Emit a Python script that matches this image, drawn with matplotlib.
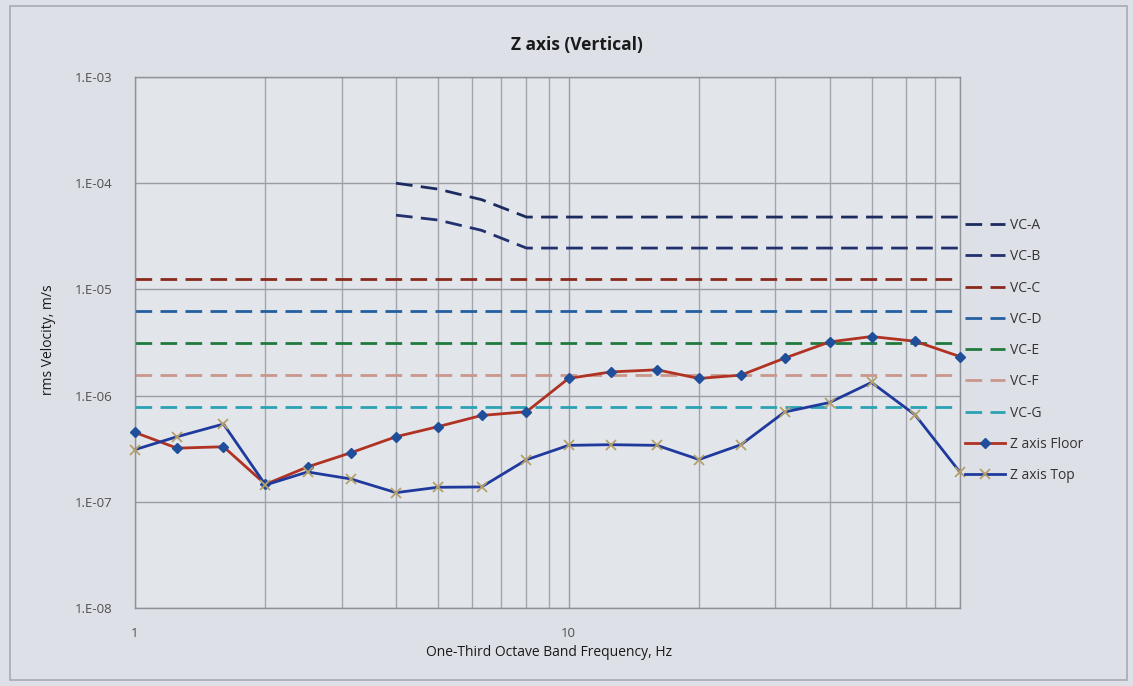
import matplotlib
matplotlib.use("Agg")
import matplotlib.pyplot as plt
import matplotlib.patches as mpatches
from matplotlib.ticker import FixedLocator, FuncFormatter, NullFormatter
import numpy as np

plt.rcParams['font.family'] = ['Open Sans', 'Noto Sans', 'DejaVu Sans']

# ---------------- data ----------------
freq = [1, 1.25, 1.6, 2, 2.5, 3.15, 4, 5, 6.3, 8, 10, 12.5, 16, 20, 25, 31.5, 40, 50, 63, 80]
z_floor = [4.5e-7, 3.2e-7, 3.3e-7, 1.46e-7, 2.13e-7, 2.9e-7, 4.1e-7, 5.1e-7, 6.5e-7, 7.05e-7,
           1.45e-6, 1.67e-6, 1.75e-6, 1.45e-6, 1.56e-6, 2.25e-6, 3.2e-6, 3.6e-6, 3.25e-6, 2.33e-6]
z_top = [3.1e-7, 4.1e-7, 5.4e-7, 1.44e-7, 1.91e-7, 1.64e-7, 1.22e-7, 1.37e-7, 1.38e-7, 2.49e-7,
         3.4e-7, 3.45e-7, 3.4e-7, 2.5e-7, 3.45e-7, 7.0e-7, 8.6e-7, 1.33e-6, 6.6e-7, 1.9e-7]

vc_ab_freq = [4, 5, 6.3, 8, 10, 12.5, 16, 20, 25, 31.5, 40, 50, 63, 80]
vc_a = [1.0e-4, 8.8e-5, 7.0e-5, 4.8e-5, 4.8e-5, 4.8e-5, 4.8e-5, 4.8e-5, 4.8e-5, 4.8e-5, 4.8e-5, 4.8e-5, 4.8e-5, 4.8e-5]
vc_b = [5.0e-5, 4.5e-5, 3.6e-5, 2.45e-5, 2.45e-5, 2.45e-5, 2.45e-5, 2.45e-5, 2.45e-5, 2.45e-5, 2.45e-5, 2.45e-5, 2.45e-5, 2.45e-5]
vc_flat_freq = [1, 80]
vc_c = [1.25e-5, 1.25e-5]
vc_d = [6.25e-6, 6.25e-6]
vc_e = [3.12e-6, 3.12e-6]
vc_f = [1.56e-6, 1.56e-6]
vc_g = [7.8e-7, 7.8e-7]

title = "Z axis (Vertical)"
xlabel = "One-Third Octave Band Frequency, Hz"
ylabel = "rms Velocity, m/s"
yticks = [1e-8, 1e-7, 1e-6, 1e-5, 1e-4, 1e-3]
ytick_labels = ["1.E-08", "1.E-07", "1.E-06", "1.E-05", "1.E-04", "1.E-03"]
xticks = [1, 10]
xtick_labels = ["1", "10"]

# ---------------- figure ----------------
W, H = 1133, 686
fig = plt.figure(figsize=(W / 100, H / 100), dpi=100)
fig.patch.set_facecolor('#dde0e6')

# chart-area border
fig.patches.append(mpatches.Rectangle((10 / W, 6 / H), (1127 - 10) / W, (680 - 6) / H,
                                      transform=fig.transFigure, fill=False,
                                      edgecolor='#a8abb0', linewidth=1.2))

left, right, top, bottom = 135, 960, 77, 608
ax = fig.add_axes([left / W, 1 - bottom / H, (right - left) / W, (bottom - top) / H])
ax.set_facecolor('#e2e5ea')
ax.set_xscale('log')
ax.set_yscale('log')
ax.set_xlim(1, 80)
ax.set_ylim(1e-8, 1e-3)

# grid
ax.xaxis.set_major_locator(FixedLocator(xticks))
ax.xaxis.set_minor_locator(FixedLocator([2, 3, 4, 5, 6, 7, 8, 9, 20, 30, 40, 50, 60, 70, 80]))
ax.xaxis.set_major_formatter(FuncFormatter(lambda v, p: xtick_labels[xticks.index(v)] if v in xticks else ""))
ax.xaxis.set_minor_formatter(NullFormatter())
ax.yaxis.set_major_locator(FixedLocator(yticks))
ax.yaxis.set_minor_locator(FixedLocator([]))
ax.yaxis.set_major_formatter(FuncFormatter(lambda v, p: ytick_labels[int(round(np.log10(v))) + 8]))
ax.grid(True, which='major', axis='both', color='#9a9da3', linewidth=1.0)
ax.grid(True, which='minor', axis='x', color='#a2a5ab', linewidth=1.0)
ax.set_axisbelow(True)
ax.tick_params(axis='both', which='both', length=0)
ax.tick_params(axis='y', labelsize=9.5, labelcolor='#505050', pad=16)
ax.tick_params(axis='x', labelsize=9.5, labelcolor='#505050', pad=14)
for s in ax.spines.values():
    s.set_color('#8e9196')
    s.set_linewidth(1.0)

dash = (6, 3)
lw = 2.0
ax.plot(vc_ab_freq, vc_a, color='#1c2b5e', lw=lw, dashes=dash, label='VC-A')
ax.plot(vc_ab_freq, vc_b, color='#22306e', lw=lw, dashes=dash, label='VC-B')
ax.plot(vc_flat_freq, vc_c, color='#8a2a1c', lw=lw, dashes=dash, label='VC-C')
ax.plot(vc_flat_freq, vc_d, color='#2460a0', lw=lw, dashes=dash, label='VC-D')
ax.plot(vc_flat_freq, vc_e, color='#207a3e', lw=lw, dashes=dash, label='VC-E')
ax.plot(vc_flat_freq, vc_f, color='#c9978c', lw=lw, dashes=dash, label='VC-F')
ax.plot(vc_flat_freq, vc_g, color='#2ba2b4', lw=lw, dashes=dash, label='VC-G')
ax.plot(freq, z_floor, color='#b03222', lw=2.0, marker='D', markersize=5.5,
        markerfacecolor='#1f4f9a', markeredgecolor='#1f4f9a', label='Z axis Floor', zorder=5)
ax.plot(freq, z_top, color='#1f3a9c', lw=2.0, marker='x', markersize=7, markeredgewidth=1.3,
        markerfacecolor='#b5a06a', markeredgecolor='#b5a06a', label='Z axis Top', zorder=5)

for ln in ax.get_lines()[-2:]:
    ln.set_clip_on(False)

handles, labels = ax.get_legend_handles_labels()
leg = fig.legend(handles, labels, loc='upper left', bbox_to_anchor=(965 / W, 1 - 218 / H),
                 frameon=False, fontsize=10, handlelength=2.9, handletextpad=0.35,
                 labelspacing=1.17, borderpad=0, borderaxespad=0)
for t in leg.get_texts():
    t.set_color('#333333')

fig.text(577 / W, 1 - 45 / H, title, ha='center', va='center', fontsize=12.5,
         fontweight='bold', color='#1a1a1a')
fig.text(549 / W, 1 - 653 / H, xlabel, ha='center', va='center', fontsize=10, color='#1a1a1a')
fig.text(48 / W, 1 - 340 / H, ylabel, ha='center', va='center', rotation=90, fontsize=10,
         color='#1a1a1a')

fig.savefig('out.png', dpi=100, facecolor=fig.get_facecolor())
